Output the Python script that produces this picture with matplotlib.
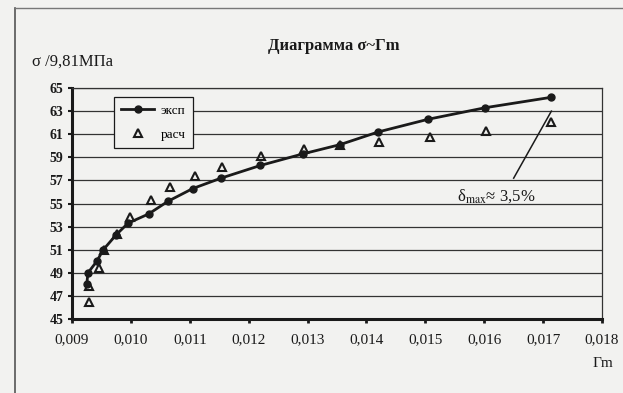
import matplotlib
matplotlib.use("Agg")
import numpy as np
import matplotlib.pyplot as plt
from matplotlib.ticker import FuncFormatter, MultipleLocator
from matplotlib.lines import Line2D

plt.rcParams['font.family'] = ['Liberation Serif', 'DejaVu Serif']
plt.rcParams['mathtext.fontset'] = 'stix'

# experimental curve
exp_x = [0.00925, 0.00927, 0.00942, 0.00953, 0.00975, 0.00995, 0.01030, 0.01063,
         0.01105, 0.01153, 0.01220, 0.01292, 0.01355, 0.01420, 0.01505, 0.01602, 0.01714]
exp_y = [48.0, 49.0, 50.0, 51.0, 52.3, 53.3, 54.1, 55.2,
         56.3, 57.2, 58.3, 59.3, 60.1, 61.2, 62.3, 63.3, 64.2]

# calculated points
calc_x = [0.00928, 0.00929, 0.00946, 0.00954, 0.00976, 0.00998, 0.01034, 0.01066,
          0.01109, 0.01154, 0.01221, 0.01294, 0.01355, 0.01421, 0.01508, 0.01603, 0.01714]
calc_y = [46.5, 47.9, 49.4, 51.0, 52.4, 53.8, 55.3, 56.4,
          57.4, 58.2, 59.1, 59.7, 60.1, 60.3, 60.8, 61.3, 62.1]

y_ticks = np.arange(45, 66, 2)

bg = '#f2f2f0'
ink = '#1a1a1a'

fig = plt.figure(figsize=(6.23, 3.93), dpi=100, facecolor=bg)
ax = fig.add_axes([0.1156, 0.188, 0.8507, 0.588], facecolor=bg)

# outer frame of the chart area
fig.add_artist(Line2D([0.024, 0.024], [0.0, 0.98], color='#555555', lw=1.2))
fig.add_artist(Line2D([0.024, 1.0], [0.98, 0.98], color='#777777', lw=1.0))

ax.set_xlim(0.009, 0.018)
ax.set_ylim(45, 65)
ax.set_yticks(y_ticks)
ax.xaxis.set_major_locator(MultipleLocator(0.001))
ax.xaxis.set_major_formatter(FuncFormatter(lambda v, p: f"{v:.3f}".replace('.', ',')))
ax.yaxis.grid(True, color='#333333', lw=0.9)
ax.set_axisbelow(True)

for s in ['left', 'bottom']:
    ax.spines[s].set_linewidth(2.2)
    ax.spines[s].set_color(ink)
for s in ['top', 'right']:
    ax.spines[s].set_linewidth(0.9)
    ax.spines[s].set_color('#333333')

ax.tick_params(axis='x', direction='out', length=3, width=2, color=ink,
               labelsize=11, pad=7, labelcolor=ink)
ax.tick_params(axis='y', direction='out', length=3, width=1.5, color=ink,
               labelsize=10, pad=3, labelcolor=ink)
for lbl in ax.get_yticklabels():
    lbl.set_fontweight('bold')

ax.plot(exp_x, exp_y, color=ink, lw=2, marker='o', ms=5, label='эксп')
ax.plot(calc_x, calc_y, ls='none', marker='^', ms=6, mfc='none', mec=ink, mew=1.5,
        label='расч')

# max deviation note
ax.plot([0.01714, 0.0165], [63.0, 57.2], color=ink, lw=1.1)
ax.text(0.0162, 55.3, r'δ$_{\mathrm{max}}$≈ 3,5%', ha='center', va='baseline',
        fontsize=12, color=ink)

leg = ax.legend(loc='upper left', bbox_to_anchor=(0.079, 0.961), frameon=True,
                fancybox=False, edgecolor=ink, facecolor=bg, framealpha=1,
                fontsize=9.5, handlelength=2.5, borderpad=0.55, labelspacing=0.9,
                borderaxespad=0, handletextpad=0.5)
leg.get_frame().set_linewidth(0.9)

fig.text(0.536, 0.883, 'Диаграмма σ~Гm', ha='center', va='center',
         fontsize=12, fontweight='bold', color=ink)
fig.text(0.051, 0.842, 'σ /9,81МПа', ha='left', va='center', fontsize=12, color=ink)
fig.text(0.984, 0.076, 'Гm', ha='right', va='center', fontsize=11, color=ink)

fig.savefig('out.png', dpi=100, facecolor=bg)
